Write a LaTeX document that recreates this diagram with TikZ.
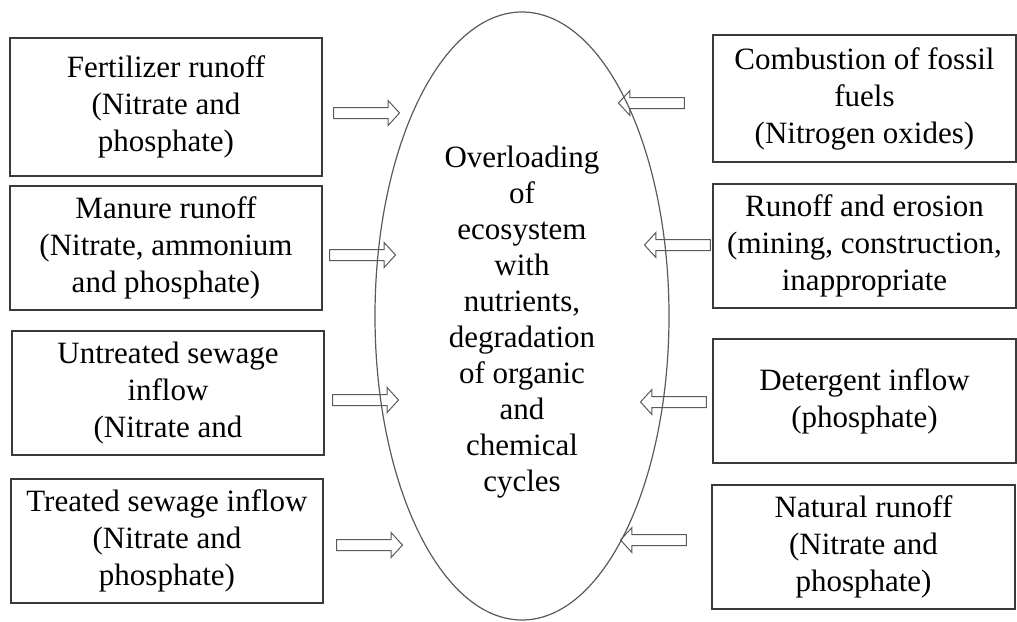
\documentclass[tikz,border=0pt]{standalone}
\usepackage{fontspec}
\setmainfont{Liberation Serif}
\usepackage{tikz}
\usetikzlibrary{
  shapes.geometric,
  shapes.arrows
}
\definecolor{eugray}{HTML}{3A3A3A}
\definecolor{eulight}{HTML}{5A5A5A}

\begin{document}
\begin{tikzpicture}[
  x=0.5pt, y=-0.5pt,
  every node/.style={font=\fontsize{15.5}{18.5}\selectfont},
  src/.style={rectangle, draw=eugray, line width=0.7pt, inner sep=0pt,
              outer sep=0pt, align=center, minimum width=156pt,
              minimum height=62pt},
  srcr/.style={src, minimum width=151.5pt},
  pool/.style={ellipse, draw=eulight, line width=0.6pt, inner sep=0pt,
               outer sep=0pt, minimum width=147pt, minimum height=304pt},
  pooltext/.style={align=center, font=\fontsize{15.5}{18}\selectfont},
  blk/.style={single arrow, draw=eulight, line width=0.5pt, inner sep=2.5pt,
              minimum height=33pt, single arrow head extend=3.5pt,
              single arrow tip angle=95},
  blkl/.style={blk, shape border rotate=180},
]
\useasboundingbox (0,0) rectangle (1017,621);

% -- Centre: the ecosystem ----------------------
\node[pool] (eco) at (522,316) {};
\node[pooltext] (ecotxt) at (522,322)
  {Overloading\\ of\\ ecosystem\\ with\\ nutrients,\\ degradation\\
   of organic\\ and\\ chemical\\ cycles};

% -- Left column: sources -----------------------
\node[src, minimum height=69pt] (fert) at (166,107)
  {Fertilizer runoff\\ (Nitrate and\\ phosphate)};
\node[src] (manure) at (166,248)
  {Manure runoff\\ (Nitrate, ammonium\\ and phosphate)};
\node[src] (untr)   at (168,393)
  {Untreated sewage\\ inflow\\ (Nitrate and};
\node[src] (treat)  at (167,541)
  {Treated sewage inflow\\ (Nitrate and\\ phosphate)};

% -- Right column: sources ----------------------
\node[srcr, minimum height=63.5pt] (fossil) at (864.5,98.5)
  {Combustion of fossil\\ fuels\\ (Nitrogen oxides)};
\node[srcr] (erosion) at (864.5,246)
  {Runoff and erosion\\ (mining, construction,\\ inappropriate};
\node[srcr] (deterg)  at (864.5,401)
  {Detergent inflow\\ (phosphate)};
\node[srcr] (natural) at (863.5,547)
  {Natural runoff\\ (Nitrate and\\ phosphate)};

% -- Block arrows into the ellipse --------------
\node[blk]  (a1) at (364,113) {};
\node[blk]  (a2) at (360,255) {};
\node[blk]  (a3) at (363,400) {};
\node[blk]  (a4) at (367,545) {};
\node[blkl] (b1) at (654,103) {};
\node[blkl] (b2) at (680,245) {};
\node[blkl] (b3) at (676,402) {};
\node[blkl] (b4) at (656,540) {};

\end{tikzpicture}
\end{document}
